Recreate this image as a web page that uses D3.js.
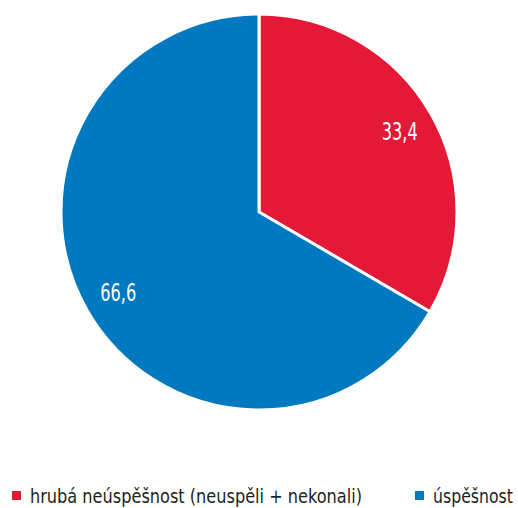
<!DOCTYPE html>
<html><head><meta charset="utf-8">
<script src="https://cdn.jsdelivr.net/npm/d3@7"></script>
<style>body{margin:0;background:#fff}</style>
</head><body>
<script>
const categories = ["hrubá neúspěšnost (neuspěli + nekonali)", "úspěšnost"];
const values = [33.4, 66.6];
const valueLabels = ["33,4", "66,6"];
const colors = ["#e31937", "#0079c1"];

const W = 518, H = 508;
const svg = d3.select("body").append("svg").attr("width", W).attr("height", H);
const font = "'DejaVu Sans Condensed','DejaVu Sans',sans-serif";
const cx = 259, cy = 212, r = 198;

const pie = d3.pie().sort(null).value(d => d)(values);
const arc = d3.arc().innerRadius(0).outerRadius(r);
const labelArc = d3.arc().innerRadius(r * 0.82).outerRadius(r * 0.82);

function squeeze(sel, target) {
  sel.each(function () {
    const w = this.getComputedTextLength();
    const s = Math.min(1, target / w);
    const t = d3.select(this).attr("data-t");
    d3.select(this).attr("transform", `${t} scale(${s},1)`);
  });
}

const g = svg.append("g").attr("transform", `translate(${cx},${cy})`);
g.selectAll("text").data(pie).join("text");
g.selectAll("path").data(pie).join("path")
  .attr("d", arc).attr("fill", (d, i) => colors[i])
  .attr("stroke", "#fff").attr("stroke-width", 3).attr("stroke-linejoin", "miter");
g.selectAll("text").raise()
  .attr("data-t", d => `translate(${labelArc.centroid(d)})`)
  .attr("text-anchor", "middle").attr("dy", "0.35em")
  .attr("fill", "#fff").style("font-family", font).style("font-size", "24px")
  .text((d, i) => valueLabels[i])
  .call(squeeze, 36);

const legendX = [12, 415];
const legendW = [332, 80];
const lg = svg.append("g");
categories.forEach((c, i) => {
  lg.append("rect").attr("x", legendX[i]).attr("y", 491).attr("width", 9).attr("height", 9).attr("fill", colors[i]);
  lg.append("text").attr("data-t", `translate(${legendX[i] + 18},503)`)
    .style("font-family", font).style("font-size", "20px").attr("fill", "#231f20").text(c)
    .call(squeeze, legendW[i]);
});
</script>
</body></html>
